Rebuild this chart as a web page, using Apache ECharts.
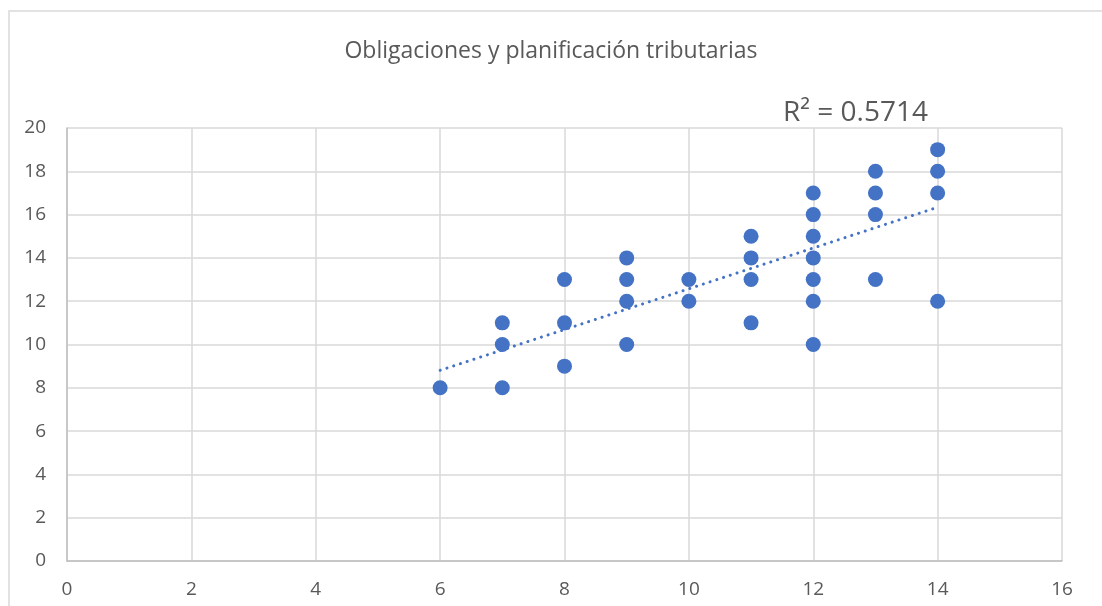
<!DOCTYPE html>
<html>
<head>
<meta charset="utf-8">
<script src="https://cdn.jsdelivr.net/npm/echarts@6/dist/echarts.min.js"></script>
<style>
html,body{margin:0;padding:0;background:#fff;}
#chart{width:1102px;height:606px;}
</style>
</head>
<body>
<div id="chart"></div>
<script>
const titleText = 'Obligaciones y planificación tributarias';
const r2Text = 'R² = 0.5714';
const xValues = [6, 7, 7, 7, 8, 8, 8, 9, 9, 9, 9, 10, 10, 11, 11, 11, 11, 12, 12, 12, 12, 12, 12, 12, 13, 13, 13, 13, 14, 14, 14, 14];
const yValues = [8, 11, 10, 8, 13, 11, 9, 14, 13, 12, 10, 13, 12, 15, 14, 13, 11, 17, 16, 15, 14, 13, 12, 10, 18, 17, 16, 13, 19, 18, 17, 12];
const xTicks = [0, 2, 4, 6, 8, 10, 12, 14, 16];
const yTicks = [0, 2, 4, 6, 8, 10, 12, 14, 16, 18, 20];

const points = xValues.map((x, i) => [x, yValues[i]]);
// linear least-squares trendline
const n = xValues.length;
const mx = xValues.reduce((a, b) => a + b, 0) / n;
const my = yValues.reduce((a, b) => a + b, 0) / n;
let sxy = 0, sxx = 0;
for (let i = 0; i < n; i++) { sxy += (xValues[i] - mx) * (yValues[i] - my); sxx += (xValues[i] - mx) ** 2; }
const slope = sxy / sxx, intercept = my - slope * mx;
const xMin = Math.min(...xValues), xMax = Math.max(...xValues);
const trend = [[xMin, intercept + slope * xMin], [xMax, intercept + slope * xMax]];

const FONT = '"Open Sans", "Noto Sans", sans-serif';
const chart = echarts.init(document.getElementById('chart'));
chart.setOption({
  backgroundColor: '#fff',
  animation: false,
  title: {
    text: titleText, left: 'center', top: 35,
    textStyle: { fontFamily: FONT, fontSize: 23, fontWeight: 'normal', color: '#595959' }
  },
  graphic: [
    { type: 'rect', shape: { x: 9, y: 11, width: 1200, height: 700 }, style: { fill: 'none', stroke: '#d9d9d9', lineWidth: 1.5 }, z: 0 },
    { type: 'text', left: 783, top: 99, style: { text: r2Text, fontFamily: FONT, fontSize: 28, fill: '#595959' }, z: 10 }
  ],
  grid: { left: 67, right: 40, top: 128, bottom: 45 },
  xAxis: {
    type: 'value', min: xTicks[0], max: xTicks[xTicks.length - 1], interval: 2,
    axisLine: { show: true, lineStyle: { color: '#bfbfbf', width: 1.5 } },
    axisTick: { show: false },
    axisLabel: { margin: 19, fontFamily: FONT, fontSize: 19, color: '#595959' },
    splitLine: { show: true, lineStyle: { color: '#d9d9d9', width: 1.5 } }
  },
  yAxis: {
    type: 'value', min: yTicks[0], max: yTicks[yTicks.length - 1], interval: 2,
    axisLine: { show: true, lineStyle: { color: '#bfbfbf', width: 1.5 } },
    axisTick: { show: false },
    axisLabel: { margin: 21, fontFamily: FONT, fontSize: 19, color: '#595959' },
    splitLine: { show: true, lineStyle: { color: '#d9d9d9', width: 1.5 } }
  },
  series: [
    {
      type: 'scatter', data: points, symbolSize: 15,
      itemStyle: { color: '#4472C4', opacity: 1 }, z: 2
    },
    {
      type: 'line', data: trend, showSymbol: false, symbol: 'none', z: 3,
      lineStyle: { color: '#4472C4', width: 3, type: [0.1, 7], cap: 'round' }
    }
  ]
});
</script>
</body>
</html>
